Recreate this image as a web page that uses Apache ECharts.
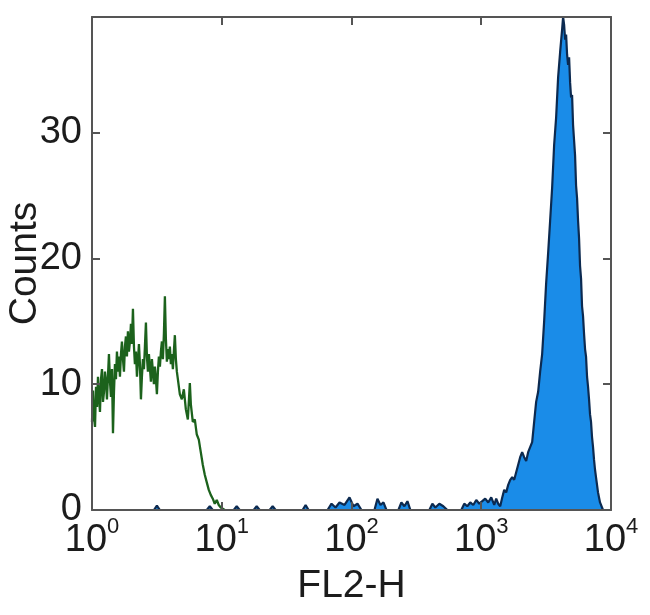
<!DOCTYPE html>
<html>
<head>
<meta charset="utf-8">
<script src="https://cdn.jsdelivr.net/npm/echarts@6/dist/echarts.min.js"></script>
<style>
html,body{margin:0;padding:0;background:#fff;}
#chart{width:650px;height:615px;}
</style>
</head>
<body>
<div id="chart"></div>
<script>
// X axis: FL2-H intensity (log scale), Y axis: Counts
const xTickValues = [1, 10, 100, 1000, 10000];
const yTickValues = [0, 10, 20, 30];
const xAxisName = 'FL2-H';
const yAxisName = 'Counts';

// Unstained / control histogram (green outline)
const greenSeries = [
  [1.000,7.0],[1.018,9.5],[1.036,7.4],[1.055,6.6],[1.074,9.8],[1.093,8.2],[1.112,10.6],[1.132,9.0],
  [1.152,7.8],[1.173,10.4],[1.194,11.2],[1.215,8.6],[1.237,9.4],[1.259,11.0],[1.282,10.2],[1.304,8.8],
  [1.351,12.4],[1.376,10.2],[1.400,9.0],[1.425,11.2],[1.451,6.1],[1.477,9.4],[1.503,11.6],[1.530,10.4],
  [1.557,12.6],[1.585,11.0],[1.613,12.2],[1.642,10.6],[1.672,12.4],[1.701,13.4],[1.732,12.0],[1.763,11.0],
  [1.794,13.0],[1.826,13.8],[1.859,12.2],[1.892,14.2],[1.926,12.6],[1.961,13.4],[1.996,14.8],[2.031,13.2],
  [2.068,16.0],[2.105,13.0],[2.142,11.6],[2.181,12.6],[2.220,10.6],[2.259,11.8],[2.300,13.2],[2.341,11.6],
  [2.383,8.8],[2.425,10.6],[2.469,12.0],[2.513,11.2],[2.558,13.0],[2.604,14.9],[2.650,12.2],[2.698,11.0],
  [2.746,12.4],[2.795,11.3],[2.845,10.2],[2.896,12.0],[2.948,11.0],[3.000,10.0],[3.054,11.4],[3.109,10.4],
  [3.164,9.2],[3.221,11.0],[3.278,12.2],[3.337,11.4],[3.397,12.6],[3.457,13.4],[3.519,12.0],[3.582,14.0],
  [3.646,17.0],[3.711,13.6],[3.777,11.8],[3.845,12.8],[3.913,12.0],[3.983,13.0],[4.055,11.6],[4.127,12.4],
  [4.201,11.2],[4.276,12.6],[4.352,13.9],[4.430,12.0],[4.509,11.0],[4.590,10.4],[4.755,9.2],[4.927,8.8],
  [5.104,9.6],[5.289,8.0],[5.480,7.2],[5.677,10.1],[5.779,8.4],[5.983,7.0],[6.199,7.2],[6.422,6.0],
  [6.654,5.6],[6.893,4.6],[7.142,3.6],[7.400,2.8],[7.667,2.2],[7.943,1.6],[8.229,1.2],[8.526,0.9],
  [8.834,0.5],[9.152,0.8],[9.482,0.4],[9.824,0.2],[10.18,0.1],[10.55,0]
];

// Stained histogram (blue, filled)
const blueSeries = [
  [3.000,0],[3.164,0.35],[3.337,0],
  [7.667,0],[8.085,0.3],[8.526,0],
  [12.37,0],[13.04,0.3],[13.75,0],
  [17.63,0],[18.59,0.3],[19.60,0],
  [23.40,0],[24.68,0.3],[26.02,0],
  [41.99,0],[44.29,0.4],[46.70,0],
  [65.37,0],[70.17,0.5],[75.32,0.2],[80.85,0.6],[88.35,0.4],[96.52,1.0],[103.6,0.3],[111.2,0.5],[119.4,0],
  [150.3,0],[158.5,0.9],[167.2,0.4],[176.3,0.6],[185.9,0],
  [229.9,0],[242.4,0.6],[255.7,0.3],[269.7,0.7],[284.4,0],
  [398.1,0],[420.0,0.5],[442.9,0.2],[475.3,0.5],[510.1,0.3],[547.6,0],
  [701.7,0],[740.0,0.5],[780.4,0.3],[823.0,0.6],[867.9,0.4],[915.3,0.8],[965.2,0.5],[1018,0.7],
  [1073,0.9],[1132,0.6],[1194,1.0],
  [1259,0.4],[1304,0.9],[1351,0.5],[1400,0.3],[1451,1.0],[1503,1.6],[1557,1.4],[1613,2.0],
  [1672,2.4],[1732,2.6],[1794,2.4],[1859,3.0],[1926,3.6],[1995,4.2],[2067,4.6],[2142,4.2],
  [2219,3.9],[2299,4.6],[2382,5.0],[2468,5.4],[2557,7.0],[2649,8.6],[2745,9.4],[2844,11.0],
  [2947,12.4],[3053,15.0],[3162,18.0],[3276,20.4],[3395,23.0],[3517,25.6],[3644,29.0],[3776,31.2],
  [3912,34.4],[4053,36.4],[4199,38.2],[4274,39.2],[4351,38.6],[4429,37.4],[4508,37.8],[4588,36.2],
  [4670,35.4],[4754,36.0],[4839,34.0],[4925,32.8],[5012,33.0],[5101,30.6],[5193,29.4],[5285,28.2],
  [5380,25.8],[5476,24.8],[5574,23.0],[5674,21.6],[5775,19.4],[5878,18.4],[5983,16.2],[6090,15.4],
  [6199,14.0],[6310,12.8],[6422,12.2],[6537,10.6],[6654,9.8],[6773,8.8],[6894,7.6],[7017,7.0],
  [7142,5.8],[7270,5.0],[7400,4.0],[7532,3.2],[7667,2.6],[7804,2.0],[7943,1.4],[8085,1.0],
  [8230,0.6],[8377,0.4],[8526,0.2],[8679,0]
];

const FONT = "'Liberation Sans', Arial, Helvetica, sans-serif";
const TEXT = '#1c1c1c';
const AXIS = '#555';
const xMin = xTickValues[0], xMax = xTickValues[xTickValues.length - 1];
const yMax = 39.2;

const chart = echarts.init(document.getElementById('chart'), null, {renderer: 'canvas'});

const axisLineStyle = {show: true, onZero: false, lineStyle: {color: AXIS, width: 2}};
const tickStyle = {show: true, inside: true, length: 8, lineStyle: {color: AXIS, width: 2}};

chart.setOption({
  animation: false,
  backgroundColor: '#fff',
  grid: {left: 92, right: 39, top: 17, bottom: 105, containLabel: false, outerBoundsMode: 'none'},
  xAxis: [
    {
      type: 'log', logBase: 10, min: xMin, max: xMax, position: 'bottom', z: 10,
      name: xAxisName, nameLocation: 'middle', nameGap: 57, nameMoveOverlap: false,
      nameTextStyle: {fontFamily: FONT, fontSize: 39, color: TEXT},
      axisLine: axisLineStyle, axisTick: tickStyle, splitLine: {show: false}, minorTick: {show: false},
      axisLabel: {
        margin: 6, fontFamily: FONT, color: TEXT,
        formatter: function (v) {
          const e = Math.round(Math.log10(v));
          return '{b|10}{s|' + e + '}';
        },
        rich: {
          b: {fontFamily: FONT, fontSize: 38, color: TEXT, lineHeight: 44, verticalAlign: 'bottom'},
          s: {fontFamily: FONT, fontSize: 22, color: TEXT, lineHeight: 24, verticalAlign: 'top'}
        }
      }
    },
    {
      type: 'log', logBase: 10, min: xMin, max: xMax, position: 'top', z: 10,
      axisLine: axisLineStyle, axisTick: tickStyle, axisLabel: {show: false}, splitLine: {show: false}
    }
  ],
  yAxis: [
    {
      type: 'value', min: 0, max: yMax, interval: 10, position: 'left', z: 10,
      name: yAxisName, nameLocation: 'middle', nameGap: 47, nameRotate: 90, nameMoveOverlap: false,
      nameTextStyle: {fontFamily: FONT, fontSize: 39, color: TEXT},
      axisLine: axisLineStyle, axisTick: tickStyle, splitLine: {show: false},
      axisLabel: {
        margin: 10, fontFamily: FONT, fontSize: 38, color: TEXT, showMaxLabel: false,
        formatter: function (v) { return yTickValues.indexOf(v) >= 0 ? String(v) : ''; }
      }
    },
    {
      type: 'value', min: 0, max: yMax, interval: 10, position: 'right', z: 10,
      axisLine: axisLineStyle, axisTick: tickStyle, axisLabel: {show: false}, splitLine: {show: false}
    }
  ],
  series: [
    {
      type: 'line', name: 'stained', data: blueSeries, xAxisIndex: 0, yAxisIndex: 0,
      symbol: 'none', smooth: false, clip: true, z: 2,
      lineStyle: {color: '#0c2a50', width: 2.2},
      areaStyle: {color: '#1a8ce8', opacity: 1}
    },
    {
      type: 'line', name: 'control', data: greenSeries, xAxisIndex: 0, yAxisIndex: 0,
      symbol: 'none', smooth: false, clip: true, z: 3,
      lineStyle: {color: '#1c621c', width: 2.3}
    }
  ]
});
</script>
</body>
</html>
